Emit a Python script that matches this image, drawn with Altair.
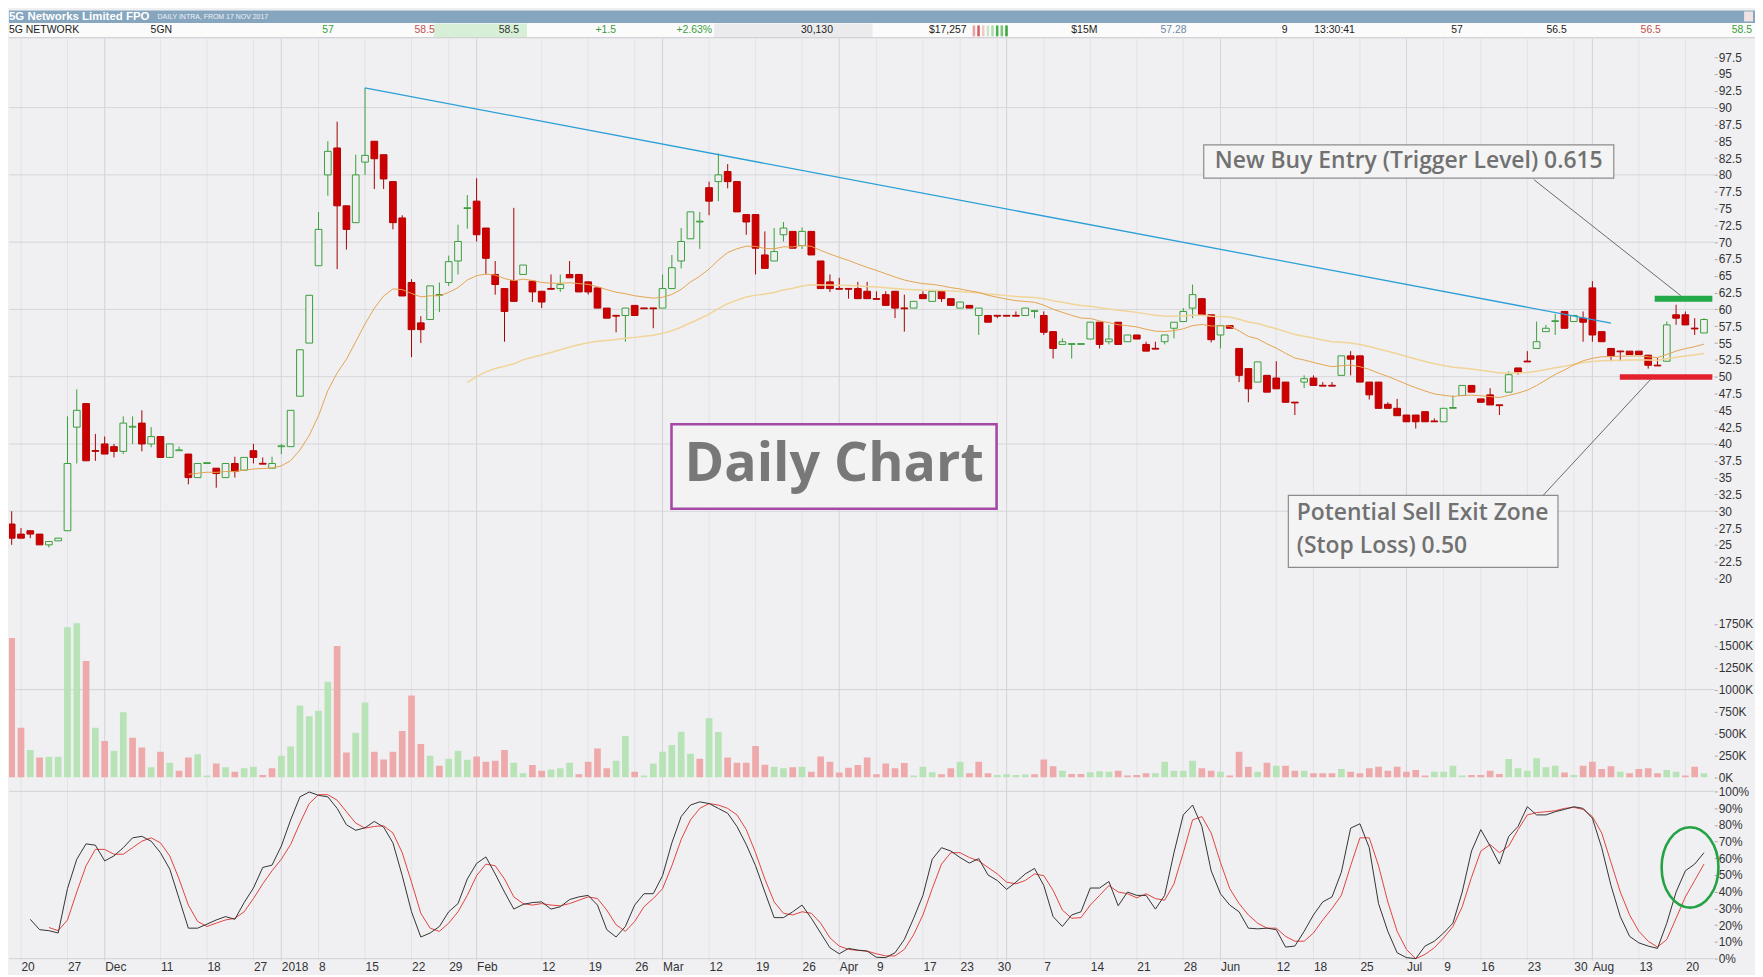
import json
import altair as alt
import pandas as pd

# ---------------- data ----------------
opens = [28.1,26.6,27.1,26.6,25.0,25.6,27.1,42.5,46.0,39.0,
         40.0,39.6,38.9,42.5,43.1,40.0,41.1,38.0,39.0,38.5,
         35.0,37.1,36.4,35.0,37.1,36.1,39.0,37.1,36.4,39.6,
         39.6,47.1,55.0,66.5,80.0,84.0,75.4,72.9,81.9,85.0,
         83.0,79.0,73.6,64.0,58.0,58.5,62.1,64.0,67.2,75.0,
         76.1,72.1,65.2,63.1,64.3,65.2,64.2,62.7,63.1,63.1,
         65.2,65.2,64.1,63.2,60.2,59.1,59.1,60.6,60.2,60.2,
         60.2,63.1,67.2,70.5,73.0,78.1,79.0,80.5,79.0,74.1,
         74.1,68.1,67.2,71.1,71.6,69.5,71.6,67.2,64.1,63.1,
         63.1,63.1,62.7,61.6,62.2,62.7,60.2,60.2,62.2,61.2,
         62.7,61.6,60.2,60.6,59.1,59.1,59.1,59.1,59.1,59.1,
         59.7,59.1,56.7,54.8,54.8,54.8,55.6,58.1,55.2,58.1,
         55.2,56.2,54.8,54.2,55.2,57.2,58.2,60.2,61.6,59.2,
         56.2,57.6,54.2,51.2,49.2,50.2,49.8,49.2,46.2,49.2,
         49.8,48.7,48.7,50.2,53.1,53.1,49.2,49.2,45.9,45.3,
         44.3,44.3,44.8,43.4,43.3,45.3,47.2,48.7,46.7,47.3,
         45.8,47.7,51.3,52.3,54.2,56.7,58.2,59.7,58.2,58.7,
         63.2,56.7,54.2,53.8,53.8,53.8,53.2,51.7,52.3,59.2,
         59.2,57.2,56.5]
highs = [30.0,27.5,27.1,26.6,25.5,26.0,44.1,48.1,46.0,41.5,
         41.1,40.0,44.1,44.1,45.0,42.5,41.1,40.0,39.6,38.5,
         37.1,37.2,36.4,37.1,38.1,38.0,40.0,38.0,38.1,40.0,
         45.0,54.0,62.1,74.5,85.0,87.9,75.4,83.0,92.9,85.0,
         83.0,79.0,74.0,64.5,59.0,63.5,64.0,68.0,72.6,77.0,
         79.5,72.1,67.2,63.1,75.1,66.6,64.2,62.7,65.2,65.2,
         67.2,65.2,64.1,63.2,60.2,59.1,60.2,60.6,60.2,60.2,
         65.2,68.1,72.1,74.5,74.5,79.0,83.2,81.6,79.0,74.1,
         74.1,71.6,72.1,73.0,71.6,72.2,71.6,67.2,65.2,64.7,
         63.1,64.1,64.1,62.7,62.7,62.7,62.2,61.2,62.7,62.7,
         62.7,61.6,61.1,60.6,60.2,59.1,59.1,59.1,59.7,60.2,
         59.7,59.7,56.7,55.7,54.8,54.9,58.1,58.1,57.7,58.1,
         56.2,56.2,55.2,55.2,56.2,58.1,60.2,63.7,61.6,59.2,
         57.6,57.6,54.2,51.2,52.2,50.2,52.3,49.2,46.2,50.2,
         50.2,49.2,49.2,53.1,53.8,53.1,49.2,49.2,46.2,46.7,
         44.3,44.3,44.8,43.8,45.3,47.2,48.7,48.7,46.7,48.3,
         45.8,50.8,51.3,53.8,58.2,57.7,59.3,59.7,59.1,59.7,
         64.2,56.7,54.2,53.8,53.8,53.8,53.2,52.8,58.2,60.7,
         59.7,58.7,58.7]
lows = [25.0,26.0,26.0,25.0,24.6,25.6,27.1,37.1,37.5,37.5,
        38.5,38.0,38.5,40.0,38.9,39.5,38.0,38.0,39.0,34.0,
        35.0,37.1,33.5,35.0,35.0,36.1,37.1,37.0,36.4,38.5,
        39.6,47.1,55.0,66.5,76.9,66.0,68.9,72.9,80.0,77.9,
        77.9,71.9,62.0,52.9,55.0,58.5,59.6,63.5,65.2,72.0,
        70.1,65.2,62.2,55.2,61.2,65.2,61.1,60.2,63.0,62.6,
        64.7,62.6,62.2,60.2,58.7,56.6,55.2,59.1,60.1,57.2,
        60.2,63.1,66.1,70.5,69.0,74.0,76.1,78.0,74.5,71.1,
        65.2,66.1,67.2,70.1,69.1,69.0,68.1,63.1,62.6,63.0,
        61.6,61.6,61.6,61.5,60.6,58.7,56.7,60.2,61.6,61.2,
        61.1,60.6,60.2,60.2,56.2,58.1,58.7,59.0,59.0,59.1,
        58.7,56.2,52.7,54.8,52.7,54.8,55.6,54.2,54.8,54.8,
        55.2,55.6,53.8,54.1,54.8,55.7,58.2,58.7,59.2,55.1,
        54.2,57.2,49.2,46.2,49.2,47.7,48.2,46.2,44.3,48.3,
        48.7,48.6,48.6,50.2,50.2,49.2,46.6,45.3,45.3,44.2,
        43.3,42.3,43.3,43.3,43.3,45.3,47.2,47.7,46.2,45.8,
        44.3,47.7,50.3,52.2,54.2,56.7,56.2,57.2,58.2,55.2,
        55.2,55.2,52.3,52.3,53.3,53.3,51.2,51.6,52.3,57.7,
        57.7,56.2,56.5]
closes = [26.0,26.0,26.6,25.0,25.5,26.0,37.1,45.0,37.5,38.9,
          38.5,38.9,43.1,42.6,40.0,41.1,38.0,40.0,39.1,35.0,
          37.1,37.2,35.6,37.1,35.9,38.0,38.0,37.0,37.1,39.7,
          45.0,54.0,62.1,71.9,83.5,75.4,71.9,80.0,82.9,82.4,
          79.4,72.9,62.0,57.0,57.0,63.5,62.2,67.1,70.1,75.1,
          71.1,67.6,63.7,59.7,61.2,66.6,62.6,61.1,63.0,63.7,
          64.7,62.6,62.6,60.2,58.7,59.0,60.2,59.1,60.1,60.1,
          63.1,66.2,70.1,74.5,73.1,76.1,80.0,79.0,74.5,73.0,
          69.1,66.1,68.6,72.1,69.1,71.6,68.1,63.1,63.1,63.0,
          63.0,61.6,61.6,61.5,60.6,60.2,60.1,61.2,61.6,62.7,
          61.6,60.6,61.1,60.2,60.2,58.1,59.0,59.0,59.0,60.2,
          59.8,56.6,54.2,55.2,54.9,54.9,58.1,54.8,55.6,54.8,
          56.2,55.6,53.8,54.1,56.2,58.1,59.7,62.2,59.2,55.5,
          57.6,57.2,50.2,48.2,52.2,47.7,48.2,46.2,46.1,49.7,
          48.7,48.6,48.6,53.1,52.6,49.2,47.3,45.3,45.3,44.2,
          43.3,43.3,43.3,43.3,45.3,45.4,48.7,47.7,46.2,45.8,
          45.7,50.3,50.7,52.2,55.2,57.2,58.3,57.2,59.1,58.1,
          56.2,55.2,53.1,53.7,53.3,53.3,51.7,51.6,57.7,58.7,
          57.7,57.1,58.5]
volume_k = [1588,564,312,226,233,233,1712,1757,1328,564,
            414,301,741,452,339,113,290,166,75,226,
            263,19,158,113,64,102,120,26,102,245,
            350,820,696,760,1091,1498,282,508,854,290,
            203,290,527,933,380,245,132,211,301,200,
            237,177,188,312,166,45,139,75,87,102,
            166,34,177,327,102,188,470,64,19,158,
            290,369,519,267,211,674,516,226,166,166,
            357,143,120,102,113,120,64,237,177,53,
            109,139,226,34,158,102,162,19,120,56,
            34,102,177,45,177,45,26,34,26,30,
            34,203,124,75,38,38,56,68,64,75,
            19,26,45,45,177,75,75,188,102,75,
            64,19,290,120,64,166,132,132,75,75,
            45,45,45,94,64,45,102,120,75,120,
            64,83,19,64,64,132,19,26,26,75,
            38,207,102,75,218,113,132,53,26,132,
            177,94,124,64,45,94,102,45,83,64,
            19,120,45]
vol_dir = ("dduduuuudu" "duuddududd" "uududuuddu" "uuuuudduud" "ddddduduuu"
           "dddduudduu" "udddduuduu" "uuuuduuddd" "dduududddd" "dddd" "ddduuu"
           "dduddduuuu" "dddudduuud" "ddduuuuudd" "udddududdu" "dddudddddd"
           "ddduuuuddd" "duuuuuudud" "dddudddduu" "ddu")
stoch_k = [None,None,23.5,17.3,16.7,15.3,41.8,59.4,68.6,67.8,
           58.4,61.4,66.3,72.2,73.1,70.2,63.3,53.5,35.9,18.2,
           18.2,20.6,23.1,25.1,23.5,33.5,42.2,54.5,55.9,67.3,
           82.9,96.7,99.6,97.6,96.7,89.8,80.0,76.7,78.2,82.0,
           78.6,69.2,49.6,28.0,12.9,15.3,19.2,28.0,32.9,47.6,
           56.9,60.8,50.6,39.8,29.6,32.4,33.5,33.9,29.6,31.0,
           35.3,36.9,37.8,32.0,17.3,12.9,19.2,32.0,38.8,38.8,
           49.6,69.2,84.9,91.8,93.7,92.7,89.8,86.9,79.0,68.2,
           55.5,39.8,24.5,24.5,28.0,32.0,24.1,15.3,6.5,2.9,
           6.1,5.1,4.5,0.8,0.6,3.5,11.4,24.1,37.8,59.4,
           66.3,64.3,60.4,57.1,59.8,50.0,46.7,41.4,45.7,50.6,
           53.9,43.7,25.1,19.2,26.1,28.0,42.2,42.2,46.1,31.6,
           39.8,37.8,37.8,29.6,37.8,63.3,85.9,91.8,79.0,52.5,
           38.8,32.0,28.0,18.2,17.8,18.2,17.3,6.9,7.5,16.3,
           26.1,33.9,36.9,51.6,78.0,80.6,66.3,32.9,16.3,3.5,
           0.6,0.0,7.5,10.4,15.3,21.2,39.8,64.3,77.1,67.3,
           56.5,73.1,79.0,90.8,85.9,85.9,87.8,89.2,90.8,89.8,
           83.9,66.3,43.7,25.1,13.3,9.4,7.5,6.1,21.2,39.8,
           52.5,56.5,63.3]
stoch_d = [None,None,None,None,18.6,16.7,23.1,39.8,55.5,65.3,
           65.3,62.4,62.4,66.3,70.2,72.2,69.2,61.4,47.6,32.0,
           22.2,19.2,21.2,23.1,24.1,28.0,35.9,44.7,52.5,59.4,
           68.2,81.0,92.7,98.0,98.0,94.7,87.8,81.0,78.0,79.0,
           79.4,75.1,63.3,45.7,27.1,18.2,16.3,21.2,28.0,37.8,
           49.6,56.5,55.5,47.6,36.9,32.9,32.0,32.9,32.0,31.6,
           32.9,34.9,36.9,35.9,29.0,20.2,16.3,22.2,31.0,35.9,
           41.8,55.5,71.2,82.9,89.8,92.7,91.8,89.8,85.9,77.1,
           63.3,47.6,33.9,27.1,26.1,28.0,27.1,21.2,12.4,7.5,
           5.5,4.9,4.5,2.9,1.6,1.6,5.5,14.3,26.1,41.8,
           56.5,63.3,63.3,60.4,58.4,54.5,50.6,45.7,44.7,46.7,
           50.6,49.6,40.8,29.0,24.1,24.5,32.0,37.8,43.7,39.8,
           38.8,36.3,38.8,35.9,34.9,44.7,63.3,82.9,84.9,75.1,
           57.5,41.8,32.9,26.1,21.2,18.2,18.2,13.3,10.4,10.4,
           15.3,23.1,30.0,37.8,55.5,72.2,72.2,55.5,33.9,16.3,
           5.5,0.0,2.5,6.5,12.4,19.2,31.0,48.6,64.3,68.2,
           63.3,67.3,77.1,85.9,87.3,87.8,88.4,89.8,90.4,89.2,
           84.9,75.1,57.5,39.8,26.1,16.3,10.4,6.9,11.4,24.1,
           36.9,46.7,56.5]
tick_idx = [1,6,10,16,21,26,29,33,38,43,47,50,57,62,67,70,75,80,85,89,
            93,98,102,106,111,116,121,126,130,136,140,145,150,154,158,163,168,170,175,180]
tick_lbl = ["20","27","Dec","11","18","27","2018","8","15","22","29","Feb","12","19","26",
            "Mar","12","19","26","Apr","9","17","23","30","7","14","21","28","Jun","12",
            "18","25","Jul","9","16","23","30","Aug","13","20"]
month_idx = [10,29,50,70,89,107,130,150,170]

trend_pts = [37.98, 92.93, 171.99, 57.98]          # x, y, x2, y2
buy_level = [176.7, 182.9, 61.15, 62.05]           # x0, x1, y0, y1
stop_level = [172.95, 182.9, 49.55, 50.35]
buy_box = [128.2, 172.3, 79.52, 84.46]
sell_box = [137.3, 166.3, 21.66, 32.36]
daily_box = [70.96, 105.92, 30.38, 42.92]
buy_leader = [163.7, 79.3, 179.5, 62.05]
sell_leader = [164.7, 32.36, 176.3, 49.66]
ellipse_at = [180.5, 54.5]

# ---------------- helpers ----------------
BG = "#f0f0f3"
FONT = "Liberation Sans"
GREEN = "#3a9e3a"
N = len(closes)


def ema(vals, n):
    out = [None] * len(vals)
    prev = sum(vals[:n]) / n
    out[n - 1] = prev
    k = 2.0 / (n + 1)
    for i in range(n, len(vals)):
        prev = prev + k * (vals[i] - prev)
        out[i] = prev
    return out


rows = []
e20 = ema(closes, 20)
e50 = ema(closes, 50)
for i in range(N):
    o, c = opens[i], closes[i]
    b0, b1 = min(o, c), max(o, c)
    if b1 - b0 < 0.12:
        b1 = b0 + 0.12
    rows.append(dict(idx=i, o=o, h=highs[i], l=lows[i], c=c, b0=b0, b1=b1,
                     x0=i - 0.36, x1=i + 0.36, dir="up" if c >= o else "down",
                     vol=volume_k[i], v0=0, vdir=vol_dir[i],
                     k=stoch_k[i], d=stoch_d[i], e20=e20[i], e50=e50[i]))
df = pd.DataFrame(rows)

xs = alt.Scale(domain=[-0.29, 183.1], nice=False, zero=False)
yp = alt.Scale(domain=[16.0, 100.3], nice=False, zero=False)
yv = alt.Scale(domain=[-26, 1961], nice=False, zero=False)
ys = alt.Scale(domain=[-1.18, 107.06], nice=False, zero=False)
W = 1714
LBL = 12


def raxis(values, fmt=None, expr=None):
    kw = dict(orient="right", values=values, domain=False, ticks=True, tickSize=3,
              tickColor="#a8a8ac", labelFont=FONT, labelFontSize=LBL, labelColor="#333333",
              labelPadding=1, grid=False, title=None, labelOverlap=False)
    if fmt:
        kw["format"] = fmt
    if expr:
        kw["labelExpr"] = expr
    return alt.Axis(**kw)


lbl_expr = "{}[indexof({}, datum.value)]".format(json.dumps(tick_lbl), json.dumps(tick_idx))
x_axis = alt.Axis(values=tick_idx, labelExpr=lbl_expr, labelAlign="left", labelBaseline="top",
                  labelPadding=1, ticks=False, domain=False, grid=False, labelFont=FONT,
                  labelFontSize=LBL, labelColor="#333333", labelOverlap=False, title=None)
price_axis = raxis([20 + 2.5 * i for i in range(32)], fmt=".1~f")
vol_axis = raxis([250 * i for i in range(8)], expr="datum.value + 'K'")
st_axis = raxis([10 * i for i in range(11)], expr="datum.value + '%'")


class Panel:
    """Same axis object on every layer, so that the merged axis stays on."""

    def __init__(self, yscale, yaxis, xaxis=None):
        self.yscale, self.yaxis, self.xaxis = yscale, yaxis, xaxis

    def X(self, f):
        return alt.X(f + ":Q", scale=xs, axis=self.xaxis, title=None)

    def Y(self, f):
        return alt.Y(f + ":Q", scale=self.yscale, axis=self.yaxis, title=None)


vg_rows = [dict(gx=t, gc="#e3e3e7") for t in tick_idx if t not in month_idx]
vg_rows += [dict(gx=m, gc="#d3d3d8") for m in month_idx]
vg_df = pd.DataFrame(vg_rows)


def vgrid(p):
    return alt.Chart(vg_df).mark_rule(strokeWidth=1).encode(
        x=p.X("gx"), color=alt.Color("gc:N", scale=None))


# ---------------- header ----------------
hx = alt.Scale(domain=[0, 1763], nice=False, zero=False)
hy = alt.Scale(domain=[28, 0], nice=False, zero=False)
hdr_rects = pd.DataFrame([
    (0, 1763, 0, 12.5, "#86a5be"),
    (0, 1763, 12.5, 27, "#fbfbfb"),
    (429, 523, 13, 27, "#d6efd6"),
    (712, 872, 13, 27, "#ebebed"),
    (0, 1763, 27, 28, "#c9c9cd"),
    (1752, 1761, 1, 11, "#f1e3e3"),
] + [(973 + i * 4.7, 975.6 + i * 4.7, 15, 26, col) for i, col in enumerate(
    ["#e9a3a3", "#d35f5f", "#efc9c9", "#c9e6c9", "#b0dab0", "#4fae4f", "#7cc47c", "#3fa53f"])],
    columns=["x0", "x1", "y0", "y1", "fill"])
hdr_left = pd.DataFrame([
    (0, 20, "5G NETWORK", "#222222"), (143, 20, "5GN", "#222222"),
    (1318, 20, "13:30:41", "#222222")],
    columns=["x", "y", "t", "col"])
hdr_right = pd.DataFrame([
    (328, "57", "#3a9e3a"), (430, "58.5", "#c0504d"), (515, "58.5", "#333333"),
    (613, "+1.5", "#3a9e3a"), (710, "+2.63%", "#3a9e3a"), (832, "30,130", "#222222"),
    (967, "$17,257", "#222222"), (1099, "$15M", "#222222"), (1189, "57.28", "#6d89a6"),
    (1291, "9", "#222222"), (1468, "57", "#222222"), (1573, "56.5", "#222222"),
    (1668, "56.5", "#c0504d"), (1760, "58.5", "#3a9e3a")], columns=["x", "t", "col"])
hdr_right["y"] = 20
hdr_title = pd.DataFrame([(0, 6.3, "5G Networks Limited FPO")], columns=["x", "y", "t"])
hdr_sub = pd.DataFrame([(150, 6.8, "DAILY INTRA, FROM 17 NOV 2017")], columns=["x", "y", "t"])

h_rect = alt.Chart(hdr_rects).mark_rect().encode(
    x=alt.X("x0:Q", scale=hx, axis=None), x2="x1:Q",
    y=alt.Y("y0:Q", scale=hy, axis=None), y2="y1:Q", fill=alt.Color("fill:N", scale=None))


def htext(data, align, size, weight="normal", color=None):
    m = alt.Chart(data).mark_text(align=align, baseline="middle", font=FONT, fontSize=size,
                                  fontWeight=weight)
    enc = dict(x=alt.X("x:Q", scale=hx, axis=None), y=alt.Y("y:Q", scale=hy, axis=None), text="t:N")
    if color:
        enc["color"] = alt.value(color)
    else:
        enc["color"] = alt.Color("col:N", scale=None)
    return m.encode(**enc)


header = alt.layer(
    h_rect,
    htext(hdr_title, "left", 11.5, "bold", "#ffffff"),
    htext(hdr_sub, "left", 7, "normal", "#eef2f6"),
    htext(hdr_left, "left", 10.5),
    htext(hdr_right, "right", 10.5),
).properties(width=1755, height=28)

# ---------------- price panel ----------------
P = Panel(yp, price_axis)
hg_df = pd.DataFrame({"gy": [30, 40, 50, 60, 70, 80, 90]})
hgrid = alt.Chart(hg_df).mark_rule(color="#d6d6da", strokeWidth=1).encode(y=P.Y("gy"))

up = "datum.dir == 'up'"
wick = alt.Chart(df).mark_rule(strokeWidth=1, clip=True).encode(
    x=P.X("idx"), y=P.Y("l"), y2="h:Q",
    color=alt.condition(up, alt.value(GREEN), alt.value("#a30000")))
body = alt.Chart(df).mark_rect(strokeWidth=1, clip=True).encode(
    x=P.X("x0"), x2="x1:Q", y=P.Y("b0"), y2="b1:Q",
    fill=alt.condition(up, alt.value(BG), alt.value("#cc0000")),
    stroke=alt.condition(up, alt.value(GREEN), alt.value("#b40000")))
ema20_line = alt.Chart(df[df["e20"].notna()]).mark_line(color="#e4a350", strokeWidth=1, clip=True).encode(
    x=P.X("idx"), y=P.Y("e20"))
ema50_line = alt.Chart(df[df["e50"].notna()]).mark_line(color="#f1d497", strokeWidth=1.5, clip=True).encode(
    x=P.X("idx"), y=P.Y("e50"))

tr_df = pd.DataFrame([dict(x=trend_pts[0], y=trend_pts[1], x2=trend_pts[2], y2=trend_pts[3])])
trend = alt.Chart(tr_df).mark_rule(color="#2b9fd6", strokeWidth=1.3).encode(
    x=P.X("x"), x2="x2:Q", y=P.Y("y"), y2="y2:Q")

lv_df = pd.DataFrame([
    dict(x0=buy_level[0], x1=buy_level[1], y0=buy_level[2], y1=buy_level[3], col="#22aa48"),
    dict(x0=stop_level[0], x1=stop_level[1], y0=stop_level[2], y1=stop_level[3], col="#e3202e")])
levels = alt.Chart(lv_df).mark_rect().encode(
    x=P.X("x0"), x2="x1:Q", y=P.Y("y0"), y2="y1:Q", fill=alt.Color("col:N", scale=None))

ld_df = pd.DataFrame([
    dict(x=buy_leader[0], y=buy_leader[1], x2=buy_leader[2], y2=buy_leader[3]),
    dict(x=sell_leader[0], y=sell_leader[1], x2=sell_leader[2], y2=sell_leader[3])])
leaders = alt.Chart(ld_df).mark_rule(color="#6a6a6a", strokeWidth=1).encode(
    x=P.X("x"), x2="x2:Q", y=P.Y("y"), y2="y2:Q")

bx_df = pd.DataFrame([
    dict(x0=buy_box[0], x1=buy_box[1], y0=buy_box[2], y1=buy_box[3], f="#f4f4f5", s="#8c8c8c", w=1.2),
    dict(x0=sell_box[0], x1=sell_box[1], y0=sell_box[2], y1=sell_box[3], f="#f4f4f5", s="#8c8c8c", w=1.2),
    dict(x0=daily_box[0], x1=daily_box[1], y0=daily_box[2], y1=daily_box[3], f="#f3f3f4", s="#a44aa6", w=2.6)])
boxes = alt.Chart(bx_df).mark_rect().encode(
    x=P.X("x0"), x2="x1:Q", y=P.Y("y0"), y2="y1:Q",
    fill=alt.Color("f:N", scale=None), stroke=alt.Color("s:N", scale=None),
    strokeWidth=alt.StrokeWidth("w:Q", scale=None))

buy_txt = pd.DataFrame([dict(x=(buy_box[0] + buy_box[1]) / 2, y=(buy_box[2] + buy_box[3]) / 2,
                             t="New Buy Entry (Trigger Level) 0.615")])
sell_txt = pd.DataFrame([dict(x=138.2, y=29.72, t="Potential Sell Exit Zone"),
                         dict(x=138.2, y=24.78, t="(Stop Loss) 0.50")])
daily_txt = pd.DataFrame([dict(x=88.45, y=36.8, t="Daily Chart")])

t_buy = alt.Chart(buy_txt).mark_text(align="center", baseline="middle", font="Open Sans",
                                     fontSize=23, fontWeight=600, color="#717171").encode(
    x=P.X("x"), y=P.Y("y"), text="t:N")
t_sell = alt.Chart(sell_txt).mark_text(align="left", baseline="middle", font="Open Sans",
                                       fontSize=23, fontWeight=600, color="#717171").encode(
    x=P.X("x"), y=P.Y("y"), text="t:N")
t_daily = alt.Chart(daily_txt).mark_text(align="center", baseline="middle", font="Open Sans",
                                         fontSize=54, fontWeight="bold", color="#787878").encode(
    x=P.X("x"), y=P.Y("y"), text="t:N")

price = alt.layer(
    vgrid(P), hgrid, wick, body, ema50_line, ema20_line, trend, levels,
    leaders, boxes, t_buy, t_sell, t_daily
).properties(width=W, height=570)

# ---------------- volume panel ----------------
V = Panel(yv, vol_axis)
vrule = alt.Chart(pd.DataFrame({"gy": [1000]})).mark_rule(color="#d2d2d6").encode(y=V.Y("gy"))
vbars = alt.Chart(df).mark_rect(clip=True).encode(
    x=V.X("x0"), x2="x1:Q", y=V.Y("vol"), y2="v0:Q",
    fill=alt.condition("datum.vdir == 'u'", alt.value("#b7e3b7"), alt.value("#eeaaaa")))
volume = alt.layer(vgrid(V), vrule, vbars).properties(width=W, height=175)

# ---------------- stochastic panel ----------------
S = Panel(ys, st_axis, x_axis)
srule = alt.Chart(pd.DataFrame({"gy": [0, 100]})).mark_rule(color="#d2d2d6").encode(y=S.Y("gy"))
kline = alt.Chart(df[df["k"].notna()]).mark_line(color="#333333", strokeWidth=1).encode(
    x=S.X("idx"), y=S.Y("k"))
dline = alt.Chart(df[df["d"].notna()]).mark_line(color="#e0443e", strokeWidth=1).encode(
    x=S.X("idx"), y=S.Y("d"))
ELLIPSE = "M -0.707 0 A 0.707 1 0 1 0 0.707 0 A 0.707 1 0 1 0 -0.707 0 Z"
ell = alt.Chart(pd.DataFrame([dict(ex=ellipse_at[0], ey=ellipse_at[1])])).mark_point(
    shape=ELLIPSE, size=6529, filled=False, color="#25a244", stroke="#25a244",
    strokeWidth=2.6, opacity=1).encode(x=S.X("ex"), y=S.Y("ey"))
stoch = alt.layer(vgrid(S), srule, dline, kline, ell).properties(width=W, height=182)

chart = alt.vconcat(header, price, volume, stoch, spacing=0, bounds="flush").properties(
    padding=0, background=BG).configure_view(stroke=None)

chart.save("out.html", embed_options={"renderer": "svg", "actions": False})
